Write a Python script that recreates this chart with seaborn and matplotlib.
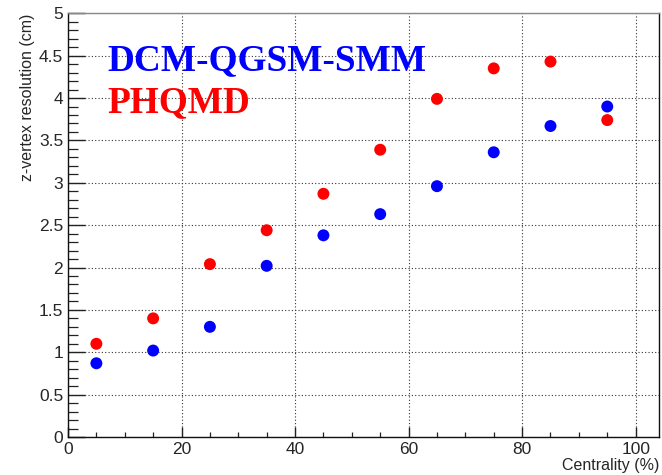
import matplotlib
matplotlib.use("Agg")
import matplotlib.pyplot as plt
from matplotlib.ticker import MultipleLocator, FormatStrFormatter
import seaborn as sns
import pandas as pd

centrality = [5, 15, 25, 35, 45, 55, 65, 75, 85, 95]
dcm_qgsm_smm = [0.87, 1.02, 1.30, 2.02, 2.38, 2.63, 2.96, 3.36, 3.67, 3.90]
phqmd = [1.10, 1.40, 2.04, 2.44, 2.87, 3.39, 3.99, 4.35, 4.43, 3.74]
series_names = ["DCM-QGSM-SMM", "PHQMD"]
series_colors = ["#0000ff", "#ff0000"]

df = pd.DataFrame({
    "Centrality": centrality * 2,
    "Resolution": dcm_qgsm_smm + phqmd,
    "Model": [series_names[0]] * len(centrality) + [series_names[1]] * len(centrality),
})

sns.set_style("white")
plt.rcParams["font.family"] = ["Liberation Sans", "DejaVu Sans"]

fig = plt.figure(figsize=(6.62, 4.75), dpi=100)
ax = fig.add_axes([0.1027, 0.080, 0.8935, 0.892])

sns.scatterplot(data=df, x="Centrality", y="Resolution", hue="Model",
                palette=dict(zip(series_names, series_colors)),
                s=74, edgecolor="none", legend=False, ax=ax, zorder=3)

ax.set_xlim(0, 104.2)
ax.set_ylim(0, 5)
ax.xaxis.set_major_locator(MultipleLocator(20))
ax.xaxis.set_minor_locator(MultipleLocator(5))
ax.yaxis.set_major_locator(MultipleLocator(0.5))
ax.yaxis.set_minor_locator(MultipleLocator(0.1))
ax.yaxis.set_major_formatter(FormatStrFormatter("%g"))
ax.xaxis.set_major_formatter(FormatStrFormatter("%g"))

ax.tick_params(axis="y", which="major", direction="in", length=12.5, width=1.0,
               labelsize=12.5, pad=3.5, color="#222222", left=True, right=False)
ax.tick_params(axis="y", which="minor", direction="in", length=7, width=0.9,
               color="#222222", left=True, right=False)
ax.tick_params(axis="x", which="major", direction="in", length=7.5, width=1.0,
               labelsize=12.5, pad=3.5, color="#222222", bottom=True, top=False)
ax.tick_params(axis="x", which="minor", direction="in", length=3.8, width=0.9,
               color="#222222", bottom=True, top=False)

ax.grid(True, which="major", linestyle=(0, (1, 2)), color="#333333", linewidth=0.8)
ax.set_axisbelow(True)

for side in ["left", "bottom", "right"]:
    ax.spines[side].set_color("#111111")
    ax.spines[side].set_linewidth(1.0)
ax.spines["top"].set_color("#888888")
ax.spines["top"].set_linewidth(1.0)

ax.set_xlabel("")
ax.set_ylabel("")
fig.text(0.996, 0.004, "Centrality (%)", ha="right", va="bottom", fontsize=11.5)
fig.text(0.042, 0.972, "z-vertex resolution (cm)", ha="center", va="top",
         rotation=90, fontsize=11.5)

ax.text(6.9, 4.33, series_names[0], color=series_colors[0], fontsize=26.8,
        fontweight="bold", family="Liberation Serif", ha="left", va="baseline")
ax.text(6.9, 3.83, series_names[1], color=series_colors[1], fontsize=26.8,
        fontweight="bold", family="Liberation Serif", ha="left", va="baseline")

fig.savefig("out.png", dpi=100)
